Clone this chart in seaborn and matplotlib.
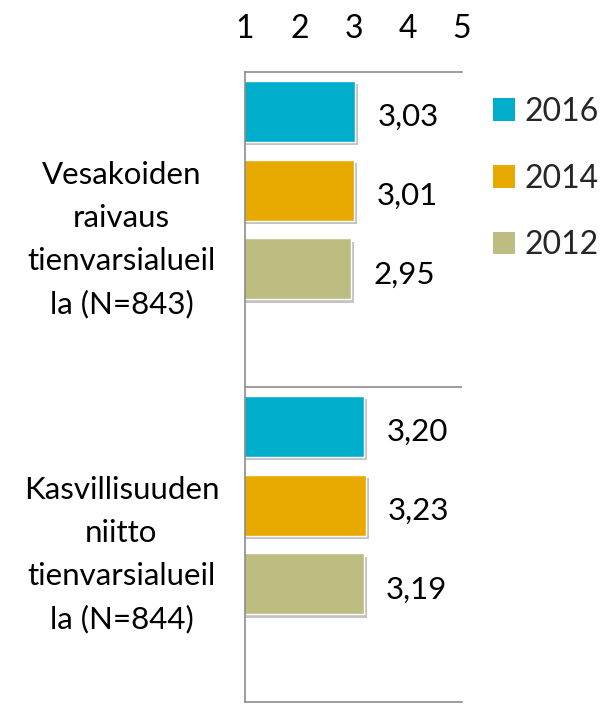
import numpy as np
import pandas as pd
import matplotlib.pyplot as plt
import matplotlib.patheffects as pe
from matplotlib.patches import Patch
import seaborn as sns

# -----------------------------------------
# Data
# -----------------------------------------

categories = [
    "Vesakoiden\nraivaus\ntienvarsialueil\nla (N=843)",
    "Kasvillisuuden\nniitto\ntienvarsialueil\nla (N=844)",
]
years = ["2016", "2014", "2012"]
values_2016 = [3.03, 3.20]
values_2014 = [3.01, 3.23]
values_2012 = [2.95, 3.19]

colors = {"2016": "#00AECB", "2014": "#E8A900", "2012": "#BDBD82"}

# empty fourth slot, the original chart leaves room for one more series
spare = "_"

df = pd.DataFrame({
    "kohde": categories * 3,
    "vuosi": np.repeat(years, len(categories)),
    "arvo": values_2016 + values_2014 + values_2012,
})

# -----------------------------------------
# Plot
# -----------------------------------------

sns.set_style("white")
plt.rcParams["font.family"] = ["Lato", "DejaVu Sans"]

fig = plt.figure(figsize=(6.07, 7.06), dpi=100)
ax = fig.add_axes([245 / 607, 1 - 702 / 706, 217 / 607, 630 / 706])

palette = dict(colors)
palette[spare] = "white"

sns.barplot(
    data=df,
    y="kohde",
    x="arvo",
    hue="vuosi",
    hue_order=years + [spare],
    palette=palette,
    orient="h",
    width=1.0,
    gap=0.225,
    legend=False,
    saturation=1,
    ax=ax
)

shadow = [pe.SimplePatchShadow(offset=(2, -2.5), shadow_rgbFace="#555555", alpha=0.35), pe.Normal()]
for bar in ax.patches:
    bar.set_path_effects(shadow)

for container in ax.containers:
    if len(container) == 0:
        continue
    labels = [f"{b.get_width():.2f}".replace(".", ",") for b in container]
    texts = ax.bar_label(container, labels=labels, padding=16, fontsize=22.5, color="black")
    for t in texts:
        # Excel puts the numbers a little below the bar middle
        t.xyann = (16, -4)

ax.set_xlim(1, 5)
ax.set_xticks([1, 2, 3, 4, 5])
ax.xaxis.tick_top()
ax.tick_params(axis="x", length=0, pad=20, labelsize=23, colors="black")
ax.tick_params(axis="y", length=0, pad=89, labelsize=22.5, colors="black")
plt.setp(ax.get_yticklabels(), ha="center", multialignment="center", linespacing=1.65)

ax.set_xlabel("")
ax.set_ylabel("")
ax.set_ylim(1.5, -0.5)
ax.axhline(0.5, color="#8c8c8c", lw=1.2)

for side in ["top", "bottom", "left"]:
    ax.spines[side].set_color("#8c8c8c")
    ax.spines[side].set_linewidth(1.2)
ax.spines["right"].set_visible(False)

handles = [Patch(facecolor=colors[y], edgecolor="none") for y in years]
fig.legend(
    handles,
    years,
    loc="center left",
    bbox_to_anchor=(493 / 607, 1 - 178.5 / 706),
    frameon=False,
    fontsize=23,
    handlelength=0.7,
    handleheight=0.7,
    handletextpad=0.3,
    labelspacing=1.15,
    borderpad=0,
    borderaxespad=0
)

fig.savefig("out.png", dpi=100)
plt.close(fig)
